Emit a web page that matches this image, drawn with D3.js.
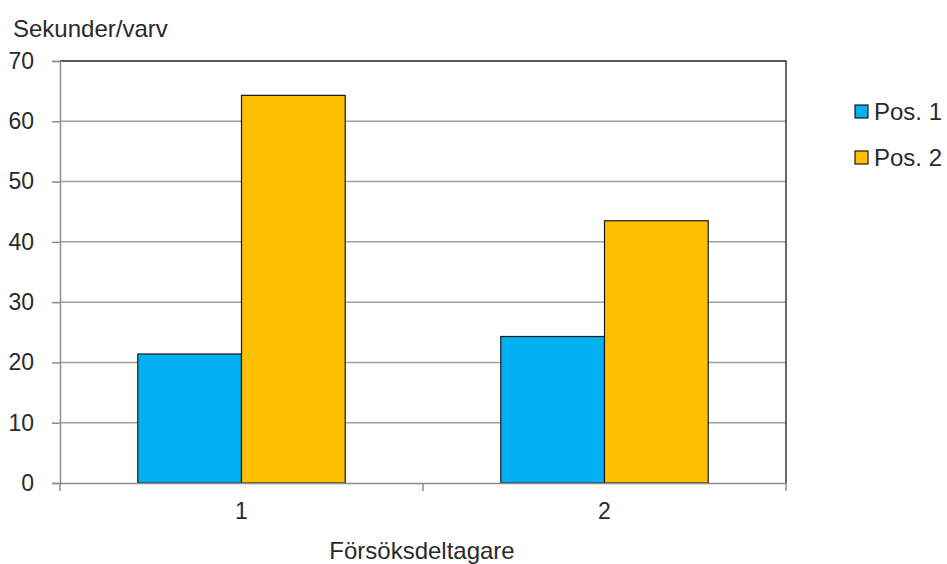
<!DOCTYPE html>
<html>
<head>
<meta charset="utf-8">
<script src="https://cdn.jsdelivr.net/npm/d3@7"></script>
<style>
  html, body { margin: 0; padding: 0; background: #fff; }
  svg { display: block; font-family: "Liberation Sans", Arial, sans-serif; }
</style>
</head>
<body>
<svg id="chart" width="947" height="564"></svg>
<script>
// Participants on the x axis, one bar per position
const participants = ["1", "2"];
const seriesNames = ["Pos. 1", "Pos. 2"];
const pos1Values = [21.4, 24.3];
const pos2Values = [64.3, 43.5];
const yTicks = [0, 10, 20, 30, 40, 50, 60, 70];
const seriesColors = ["#00B0F0", "#FFC000"];

const rows = participants.map((p, i) => ({ p, values: [pos1Values[i], pos2Values[i]] }));

const svg = d3.select("#chart");
const m = { left: 60, right: 786, top: 61, bottom: 483 };

const x = d3.scaleBand().domain(participants).range([m.left, m.right]).paddingInner(0).paddingOuter(0);
// Excel-style gap width: the bar pair fills 2 / 3.5 of each band
const groupW = x.bandwidth() * 2 / 3.5;
const x1 = d3.scaleBand().domain(seriesNames).range([0, groupW]).padding(0);
const y = d3.scaleLinear().domain([0, 70]).range([m.bottom, m.top]);

const textColor = "#2a2a2a";

// Horizontal gridlines
svg.append("g")
  .selectAll("line")
  .data(yTicks.filter(t => t > 0))
  .join("line")
  .attr("x1", m.left).attr("x2", m.right)
  .attr("y1", d => y(d)).attr("y2", d => y(d))
  .attr("stroke", "#a0a0a0").attr("stroke-width", 1.5);

// Plot frame: top and right edges
svg.append("path")
  .attr("d", `M${m.left},${m.top}H${m.right}V${m.bottom}`)
  .attr("fill", "none").attr("stroke", "#3a3a3a").attr("stroke-width", 1.5);

// Bars
const groups = svg.append("g")
  .selectAll("g")
  .data(rows)
  .join("g")
  .attr("transform", d => `translate(${x(d.p) + (x.bandwidth() - groupW) / 2},0)`);

groups.selectAll("rect")
  .data(d => d.values.map((v, k) => ({ name: seriesNames[k], v, k })))
  .join("rect")
  .attr("x", d => x1(d.name))
  .attr("width", x1.bandwidth())
  .attr("y", d => y(d.v))
  .attr("height", d => y(0) - y(d.v))
  .attr("fill", d => seriesColors[d.k])
  .attr("stroke", "#1a1a1a").attr("stroke-width", 1.2);

// Y axis
const yAxis = svg.append("g")
  .attr("transform", `translate(${m.left},0)`)
  .call(d3.axisLeft(y).tickValues(yTicks).tickSize(8).tickPadding(18).tickFormat(d3.format("d")));
yAxis.select(".domain").attr("stroke", "#8c8c8c").attr("stroke-width", 1.5);
yAxis.selectAll(".tick line").attr("stroke", "#8c8c8c").attr("stroke-width", 1.5);
yAxis.selectAll(".tick text").attr("fill", textColor).style("font-size", "23px")
  .attr("font-family", "'Liberation Sans', Arial, sans-serif");

// X axis: ticks sit on the band boundaries
const xAxis = svg.append("g")
  .attr("transform", `translate(0,${m.bottom})`)
  .call(d3.axisBottom(x).tickSize(0).tickPadding(20));
xAxis.select(".domain").attr("stroke", "#8c8c8c").attr("stroke-width", 1.5);
xAxis.selectAll(".tick text").attr("fill", textColor).style("font-size", "23px")
  .attr("font-family", "'Liberation Sans', Arial, sans-serif");
svg.append("g")
  .selectAll("line")
  .data([m.left, ...participants.map(p => x(p) + x.bandwidth())])
  .join("line")
  .attr("x1", d => d).attr("x2", d => d)
  .attr("y1", m.bottom).attr("y2", m.bottom + 8)
  .attr("stroke", "#8c8c8c").attr("stroke-width", 1.5);

// Axis titles
svg.append("text")
  .attr("x", 13).attr("y", 37)
  .attr("fill", textColor).style("font-size", "24px")
  .text("Sekunder/varv");

svg.append("text")
  .attr("x", 422).attr("y", 559)
  .attr("text-anchor", "middle")
  .attr("fill", textColor).style("font-size", "24px")
  .text("Försöksdeltagare");

// Legend
const legend = svg.append("g")
  .selectAll("g")
  .data(seriesNames)
  .join("g")
  .attr("transform", (d, i) => `translate(855,${105 + i * 46})`);
legend.append("rect")
  .attr("width", 13).attr("height", 13)
  .attr("fill", (d, i) => seriesColors[i])
  .attr("stroke", "#1a1a1a").attr("stroke-width", 1.2);
legend.append("text")
  .attr("x", 19).attr("y", 14.5)
  .attr("fill", textColor).style("font-size", "24px")
  .text(d => d);
</script>
</body>
</html>
